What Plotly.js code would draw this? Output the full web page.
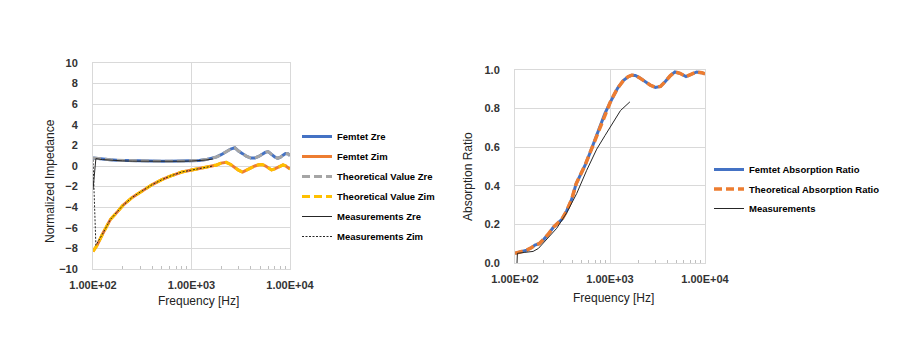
<!DOCTYPE html>
<html>
<head>
<meta charset="utf-8">
<script src="https://cdn.plot.ly/plotly-3.0.1.min.js"></script>
<style>html,body{margin:0;padding:0;background:#fff;}#chart{width:910px;height:348px;}</style>
</head>
<body>
<div id="chart"></div>
<script>
// ---------- Left chart: normalized impedance ----------
const freqImp = [100,110,125,150,175,200,250,300,400,500,600,800,1000,1200,1400,1600,1800,2000,2250,2500,2750,3000,3300,3600,4000,4400,4800,5200,5600,6000,6500,7000,7500,8000,8500,9000,9500,10000];
const femtetZre = [0.78,0.72,0.66,0.60,0.56,0.54,0.50,0.48,0.46,0.45,0.45,0.46,0.48,0.53,0.62,0.72,0.88,1.10,1.40,1.65,1.78,1.45,1.20,0.95,0.77,0.78,0.92,1.12,1.32,1.40,1.12,0.88,0.75,0.85,1.05,1.22,1.20,1.02];
const femtetZim = [-8.3,-7.7,-6.6,-5.2,-4.5,-3.85,-3.05,-2.55,-1.8,-1.33,-1.0,-0.58,-0.40,-0.24,-0.12,-0.04,0.10,0.28,0.36,0.15,-0.15,-0.40,-0.60,-0.42,-0.15,0.0,0.12,0.15,0.02,-0.15,-0.38,-0.28,-0.12,0.02,0.10,0.02,-0.15,-0.30];
const theoryZre = [0.78,0.72,0.66,0.60,0.56,0.54,0.50,0.48,0.46,0.45,0.45,0.46,0.48,0.53,0.62,0.72,0.88,1.10,1.40,1.65,1.78,1.45,1.20,0.95,0.77,0.78,0.92,1.12,1.32,1.40,1.12,0.88,0.75,0.85,1.05,1.22,1.20,1.02];
const theoryZim = [-8.3,-7.7,-6.6,-5.2,-4.5,-3.85,-3.05,-2.55,-1.8,-1.33,-1.0,-0.58,-0.40,-0.24,-0.12,-0.04,0.10,0.28,0.36,0.15,-0.15,-0.40,-0.60,-0.42,-0.15,0.0,0.12,0.15,0.02,-0.15,-0.38,-0.28,-0.12,0.02,0.10,0.02,-0.15,-0.30];
const measImpFreq = [100,107,125,150,200,250,300,400,500,600,800,1000,1200,1400,1650];
const measZre = [-2.3,0.72,0.62,0.56,0.50,0.47,0.46,0.45,0.45,0.45,0.46,0.48,0.52,0.58,0.68];
const measZim = [0.6,-7.7,-6.6,-5.2,-3.85,-3.05,-2.55,-1.8,-1.33,-1.0,-0.58,-0.38,-0.22,-0.12,0.0];

// ---------- Right chart: absorption ratio ----------
const freqAbs = [100,110,125,133,150,162,180,199,225,253,280,310,350,395,440,482,550,615,700,785,885,1000,1084,1200,1380,1550,1690,1850,2070,2350,2640,3000,3400,3820,4300,4830,5450,6310,6940,7500,8170,9230,10000];
const femtetAbs = [0.05,0.055,0.063,0.067,0.08,0.093,0.10,0.12,0.15,0.185,0.205,0.225,0.27,0.33,0.41,0.45,0.51,0.57,0.64,0.71,0.775,0.83,0.865,0.905,0.945,0.965,0.973,0.972,0.958,0.94,0.922,0.91,0.915,0.94,0.97,0.99,0.983,0.966,0.975,0.985,0.99,0.986,0.98];
const theoryAbs = [0.05,0.055,0.063,0.067,0.08,0.093,0.10,0.12,0.15,0.185,0.205,0.225,0.27,0.33,0.41,0.45,0.51,0.57,0.64,0.71,0.775,0.83,0.865,0.905,0.945,0.965,0.973,0.972,0.958,0.94,0.922,0.91,0.915,0.94,0.97,0.99,0.983,0.966,0.975,0.985,0.99,0.986,0.98];
const measAbsFreq = [105,106,127,155,176,215,275,350,446,568,725,885,1000,1290,1620];
const measAbs = [0.0,0.05,0.055,0.06,0.075,0.12,0.18,0.26,0.36,0.48,0.59,0.66,0.70,0.79,0.835];

// ---------- Tick labels ----------
const decadeVals = [100,1000,10000];
const decadeText = ['1.00E+02','1.00E+03','1.00E+04'];
const minorVals = [200,300,400,500,600,700,800,900,2000,3000,4000,5000,6000,7000,8000,9000];
const impTicks = [-10,-8,-6,-4,-2,0,2,4,6,8,10];
const absTicks = [0,0.2,0.4,0.6,0.8,1.0];

const W = 910, H = 348;
const px = v => v / W;
const py = v => 1 - v / H;

const FONT = 'Liberation Sans, Arial, sans-serif';
const grid = '#d9d9d9';
const tickFont = {family: FONT, size: 11, color: '#333', weight: 'bold'};

const traces = [
  {x: freqImp, y: femtetZre, name: 'Femtet Zre', legendgroup: 'a', mode: 'lines', line: {color: '#4472C4', width: 3}, xaxis: 'x', yaxis: 'y', legend: 'legend'},
  {x: freqImp, y: femtetZim, name: 'Femtet Zim', legendgroup: 'b', mode: 'lines', line: {color: '#ED7D31', width: 3}, xaxis: 'x', yaxis: 'y', legend: 'legend'},
  {x: freqImp, y: theoryZre, name: 'Theoretical Value Zre', legendgroup: 'c', mode: 'lines', line: {color: '#A5A5A5', width: 3, dash: '8px,4px'}, xaxis: 'x', yaxis: 'y', legend: 'legend'},
  {x: freqImp, y: theoryZim, name: 'Theoretical Value Zim', legendgroup: 'd', mode: 'lines', line: {color: '#FFC000', width: 3, dash: '8px,4px'}, xaxis: 'x', yaxis: 'y', legend: 'legend'},
  {x: measImpFreq, y: measZre, name: 'Measurements Zre', legendgroup: 'e', mode: 'lines', line: {color: '#262626', width: 1}, xaxis: 'x', yaxis: 'y', legend: 'legend'},
  {x: measImpFreq, y: measZim, name: 'Measurements Zim', legendgroup: 'f', mode: 'lines', line: {color: '#262626', width: 1, dash: '2px,1.5px'}, xaxis: 'x', yaxis: 'y', legend: 'legend'},
  {x: freqAbs, y: femtetAbs, name: 'Femtet Absorption Ratio', legendgroup: 'g', mode: 'lines', line: {color: '#4472C4', width: 3}, xaxis: 'x2', yaxis: 'y2', legend: 'legend2'},
  {x: freqAbs, y: theoryAbs, name: 'Theoretical Absorption Ratio', legendgroup: 'h', mode: 'lines', line: {color: '#ED7D31', width: 3.5, dash: '8px,4px'}, xaxis: 'x2', yaxis: 'y2', legend: 'legend2'},
  {x: measAbsFreq, y: measAbs, name: 'Measurements', legendgroup: 'i', mode: 'lines', line: {color: '#262626', width: 1}, xaxis: 'x2', yaxis: 'y2', legend: 'legend2'}
];

function xAxis(dom) {
  return {
    type: 'log', domain: dom, range: [2, 4],
    tickmode: 'array', tickvals: decadeVals, ticktext: decadeText,
    tickfont: tickFont, ticks: '', ticklabelstandoff: 6,
    showgrid: true, gridcolor: grid, gridwidth: 1,
    showline: true, linecolor: grid, linewidth: 1, mirror: true,
    zeroline: false, fixedrange: true,
    minor: {tickmode: 'array', tickvals: minorVals, ticks: 'inside', ticklen: 3, tickcolor: '#bfbfbf', tickwidth: 1, showgrid: false}
  };
}
function yAxis(dom, range, vals, fmt) {
  return {
    domain: dom, range: range, tickmode: 'array', tickvals: vals, tickformat: fmt,
    tickfont: tickFont, ticks: '', ticklabelstandoff: 12,
    showgrid: true, gridcolor: grid, gridwidth: 1,
    showline: true, linecolor: grid, linewidth: 1, mirror: true,
    zeroline: false, fixedrange: true
  };
}

const titleFont = {family: FONT, size: 12, color: '#222'};
const legFont = {family: FONT, size: 9.5, color: '#000', weight: 'bold'};

const layout = {
  width: W, height: H,
  margin: {l: 0, r: 0, t: 0, b: 0},
  paper_bgcolor: '#fff', plot_bgcolor: '#fff',
  showlegend: true,
  xaxis: xAxis([px(93), px(290)]),
  yaxis: yAxis([1 - 269 / H, 1 - 63 / H], [-10, 10], impTicks, 'd'),
  xaxis2: Object.assign(xAxis([px(515), px(705)]), {anchor: 'y2'}),
  yaxis2: Object.assign(yAxis([1 - 263 / H, 1 - 70 / H], [0, 1], absTicks, '.1f'), {anchor: 'x2'}),
  legend: {x: px(297), xanchor: 'left', y: py(122), yanchor: 'top', font: legFont, bgcolor: 'rgba(0,0,0,0)', borderwidth: 0, traceorder: 'grouped', tracegroupgap: 1},
  legend2: {x: px(709), xanchor: 'left', y: py(155), yanchor: 'top', font: legFont, bgcolor: 'rgba(0,0,0,0)', borderwidth: 0, traceorder: 'grouped', tracegroupgap: 0.5},
  annotations: [
    {text: 'Normalized Impedance', xref: 'paper', yref: 'paper', x: px(50), y: py(181), textangle: -90, showarrow: false, font: titleFont, xanchor: 'center', yanchor: 'middle'},
    {text: 'Frequency [Hz]', xref: 'paper', yref: 'paper', x: px(198), y: py(301), showarrow: false, font: titleFont, xanchor: 'center', yanchor: 'middle'},
    {text: 'Absorption Ratio', xref: 'paper', yref: 'paper', x: px(468), y: py(176), textangle: -90, showarrow: false, font: titleFont, xanchor: 'center', yanchor: 'middle'},
    {text: 'Frequency [Hz]', xref: 'paper', yref: 'paper', x: px(613), y: py(298), showarrow: false, font: titleFont, xanchor: 'center', yanchor: 'middle'}
  ]
};

Plotly.newPlot('chart', traces, layout, {displayModeBar: false, staticPlot: true});
</script>
</body>
</html>
